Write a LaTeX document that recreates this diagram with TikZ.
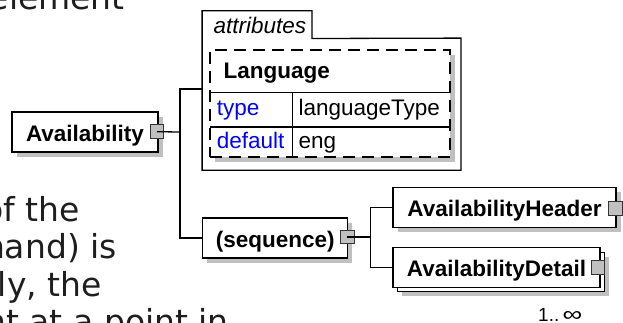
\documentclass[tikz,border=0pt]{standalone}
\usepackage{fontspec}
\usepackage{graphicx}
\setmainfont{Liberation Sans}
\newfontfamily\bgfont{DejaVu Sans}
\usetikzlibrary{shadows}
\definecolor{shadowgray}{RGB}{192,192,192}
\definecolor{sqgray}{RGB}{192,192,192}
\definecolor{bgtext}{RGB}{30,30,30}
\definecolor{attblue}{RGB}{0,0,255}
\begin{document}
\begin{tikzpicture}[x=1pt,y=-1pt,
  plainbox/.style={draw=black,line width=1.3pt,fill=white,
    font=\bfseries\fontsize{22.5}{27}\selectfont,
    text height=18pt,text depth=0pt,inner sep=0pt,minimum height=40pt},
  elbox/.style={plainbox,drop shadow={shadow xshift=4.5pt,shadow yshift=-4.5pt,fill=shadowgray,opacity=1}},
  sq/.style={draw=black!80,line width=1pt,fill=sqgray,minimum size=13.5pt,inner sep=0pt},
  conn/.style={draw=black,line width=1.3pt},
  bgtxt/.style={font=\bgfont\fontsize{33}{40}\selectfont,text=bgtext,inner sep=0pt,anchor=base east},
  cell/.style={font=\fontsize{22.5}{27}\selectfont,inner sep=0pt,anchor=base west},
  frame/.style={line width=1.3pt}]
\useasboundingbox (0,0) rectangle (623,322);
\clip (0,0) rectangle (623,322);

% background text of the surrounding page
\node[bgtxt] (t1) at (125,9.3) {element};
\node[bgtxt] (t2) at (80,221) {of the};
\node[bgtxt] (t3) at (117,258) {hand) is};
\node[bgtxt] (t4) at (102,296) {ly, the};
\node[bgtxt] (t5) at (229,333.5) {nt at a point in};

% attributes group
\node[minimum width=109.4pt,minimum height=27.3pt,inner sep=0pt] (tab) at (257,24.65) {};
\node[minimum width=258.4pt,minimum height=131.7pt,inner sep=0pt] (attr) at (331.5,104.15) {};
\draw[frame] (attr.north east) -- (attr.south east) -- (attr.south west) -- (tab.north west)
  -- (tab.north east) -- (tab.south east) -- cycle;
\node[cell,font=\itshape\fontsize{22.5}{27}\selectfont] (attrlbl) at (213.3,33) {attributes};

\node[draw=black,dash pattern=on 12pt off 7pt,line width=1.3pt,fill=white,
  minimum width=240pt,minimum height=107pt,inner sep=0pt,
  drop shadow={shadow xshift=5pt,shadow yshift=-5pt,fill=shadowgray,opacity=1}] (lang) at (330,103.5) {};
\draw[frame] (210,92.7) -- (450,92.7);
\draw[frame] (210,127) -- (450,127);
\draw[frame] (292.7,92.7) -- (292.7,157);
\node[cell,font=\bfseries\fontsize{22.5}{27}\selectfont] (langlbl) at (223.3,78) {Language};
\node[cell,text=attblue] (typek) at (216.7,115.5) {type};
\node[cell] (typev) at (298.3,115.5) {languageType};
\node[cell,text=attblue] (defk) at (216.7,148.5) {default};
\node[cell] (defv) at (298.3,148.5) {eng};

% element boxes
\node[elbox,minimum width=146pt] (avail) at (85,132) {Availability};
\node[sq] (availsq) at (157,131.7) {};
\node[elbox,minimum width=145pt] (seq) at (275.3,238) {(sequence)};
\node[sq] (seqsq) at (347.3,237) {};
\node[elbox,minimum width=223pt] (header) at (504.5,207.3) {AvailabilityHeader};
\node[sq] (hdrsq) at (615.5,208.3) {};
\node[elbox,minimum width=207pt,minimum height=39.6pt] (detailback) at (501,272) {};
\node[plainbox,minimum width=207pt,minimum height=39.6pt] (detail) at (496.5,267.5) {AvailabilityDetail};
\node[sq] (detsq) at (598,267.5) {};

% connectors
\coordinate (j1) at (180,132);
\coordinate (j2) at (180,89);
\draw[conn] (availsq.center) -- (j1);
\draw[conn] (j2 -| attr.west) -- (j2) -- (j2 |- seq.west) -- (seq.west);
\coordinate (k1) at (370.7,237);
\draw[conn] (seqsq.center) -- (k1);
\draw[conn] (header.west) -- (header.west -| k1) -- (detail.west -| k1) -- (detail.west);

% multiplicity
\node[inner sep=0pt,anchor=base west,font=\fontsize{19}{22}\selectfont] (mult) at (538,321) {1..\,\scalebox{1.45}[1.1]{∞}};
\end{tikzpicture}
\end{document}
